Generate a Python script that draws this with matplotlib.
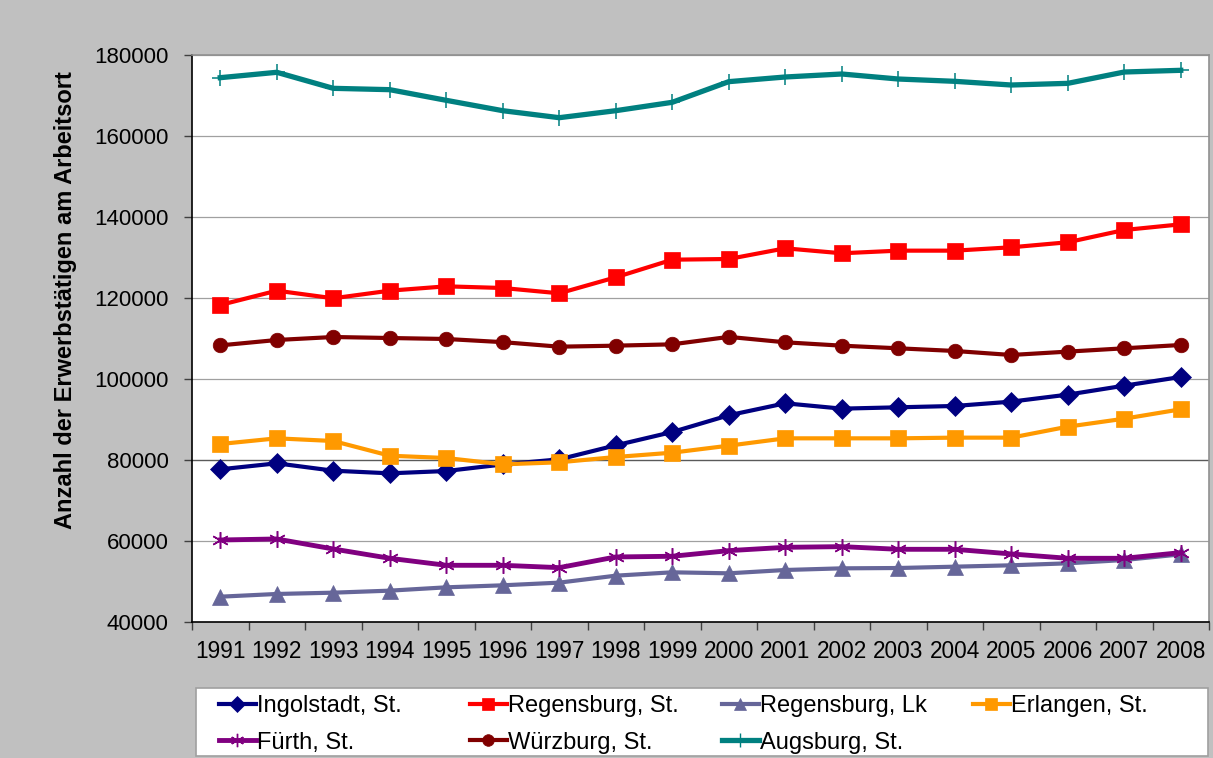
import matplotlib
matplotlib.use("Agg")
import matplotlib.pyplot as plt
from matplotlib.patches import Rectangle
from matplotlib.lines import Line2D

plt.rcParams['font.family'] = ['Liberation Sans', 'DejaVu Sans']

years = ["1991", "1992", "1993", "1994", "1995", "1996", "1997", "1998", "1999",
         "2000", "2001", "2002", "2003", "2004", "2005", "2006", "2007", "2008"]

ingolstadt = [77700, 79180, 77360, 76710, 77280, 78900, 80160, 83620, 86910,
              91040, 94000, 92680, 93010, 93340, 94410, 96140, 98350, 100500]
regensburg_st = [118270, 121810, 119930, 121810, 122880, 122470, 121160, 125110, 129460,
                 129630, 132270, 131040, 131690, 131690, 132520, 133760, 136790, 138190]
regensburg_lk = [46250, 46920, 47240, 47740, 48560, 49060, 49720, 51440, 52270,
                 52020, 52840, 53250, 53330, 53660, 54000, 54490, 55310, 56700]
erlangen = [83950, 85350, 84690, 81060, 80490, 78930, 79430, 80740, 81810,
            83540, 85350, 85350, 85350, 85520, 85520, 88230, 90200, 92520]
fuerth = [60250, 60500, 58030, 55730, 54000, 54000, 53420, 56060, 56230,
          57620, 58440, 58610, 57950, 57950, 56800, 55730, 55730, 57130]
wuerzburg = [108300, 109630, 110370, 110120, 109880, 109100, 107980, 108230, 108560,
             110400, 109060, 108230, 107580, 106920, 105930, 106760, 107580, 108400]
augsburg = [174400, 175730, 171770, 171440, 168810, 166250, 164520, 166250, 168320,
            173420, 174570, 175310, 174070, 173500, 172590, 173000, 175800, 176220]

series = [
    ("Ingolstadt, St.", ingolstadt, "#000080", "D", 10, 3.0),
    ("Regensburg, St.", regensburg_st, "#FF0000", "s", 11.5, 3.0),
    ("Regensburg, Lk", regensburg_lk, "#666699", "^", 11, 3.0),
    ("Erlangen, St.", erlangen, "#FF9900", "s", 11.5, 3.0),
    ("Fürth, St.", fuerth, "#800080", (6, 2, 0), 12, 3.5),
    ("Würzburg, St.", wuerzburg, "#800000", "o", 10.5, 3.0),
    ("Augsburg, St.", augsburg, "#008080", "+", 12, 3.8),
]

W, H = 1213, 758
fig = plt.figure(figsize=(W / 100, H / 100), dpi=100, facecolor="#C0C0C0")
ax = fig.add_axes([192 / W, 1 - 622 / H, (1209 - 192) / W, (622 - 55) / H])
ax.set_facecolor("white")

x = list(range(len(years)))
for name, vals, col, mk, ms, lw in series:
    thin = mk in ("+",) or isinstance(mk, tuple)
    ax.plot(x, vals, color=col, lw=lw, marker=mk, markersize=ms,
            markeredgewidth=1.1 if thin else 0.5, markeredgecolor=col,
            markerfacecolor=col, label=name, solid_joinstyle="round", zorder=3)

ax.set_ylim(40000, 180000)
ax.set_xlim(-0.5, len(years) - 0.5)
ax.set_yticks(range(40000, 180001, 20000))
ax.set_yticklabels([str(v) for v in range(40000, 180001, 20000)], fontsize=16)
ax.set_xticks(x)
ax.set_xticklabels(years, fontsize=16.3)
ax.set_xticks([i - 0.5 for i in range(len(years) + 1)], minor=True)
ax.tick_params(axis="x", which="major", length=0, pad=13)
ax.tick_params(axis="x", which="minor", length=6, width=1, color="#404040", direction="out")
ax.tick_params(axis="y", length=6, width=1, color="#404040", direction="out", pad=11)

for v in range(60000, 180001, 20000):
    ax.axhline(v, color="#5a5a5a" if v == 80000 else "#A0A0A0",
               lw=1.0 if v == 80000 else 0.9, zorder=1)

for s in ("top", "right"):
    ax.spines[s].set_color("#909090")
    ax.spines[s].set_linewidth(1.2)
for s in ("left", "bottom"):
    ax.spines[s].set_color("black")
    ax.spines[s].set_linewidth(1.2)

fig.text(66 / W, 1 - 300 / H, "Anzahl der Erwerbstätigen am Arbeitsort",
         rotation=90, ha="center", va="center", fontsize=17, fontweight="bold")

# legend box
fig.patches.append(Rectangle((196 / W, 1 - 756 / H), (1208 - 196) / W, (756 - 688) / H,
                             transform=fig.transFigure, facecolor="white",
                             edgecolor="#A0A0A0", lw=1.2, zorder=0))

cols = [[0, 4], [1, 5], [2, 6], [3]]
xpos = [219, 470, 722, 973]
for ci, idxs in enumerate(cols):
    hs = []
    for i in idxs:
        name, vals, col, mk, ms, lw = series[i]
        thin = mk in ("+",) or isinstance(mk, tuple)
        hs.append(Line2D([], [], color=col, lw=lw, marker=mk, markersize=ms * 0.8,
                         markeredgewidth=1.0 if thin else 0.5, markeredgecolor=col,
                         markerfacecolor=col, label=name))
    fig.legend(handles=hs, loc="upper left",
               bbox_to_anchor=(xpos[ci] / W, 1 - 695 / H),
               frameon=False, fontsize=17, handlelength=1.55,
               handletextpad=0.08, labelspacing=0.62, borderpad=0.0,
               borderaxespad=0)

fig.savefig("out.png", dpi=100, facecolor=fig.get_facecolor())
